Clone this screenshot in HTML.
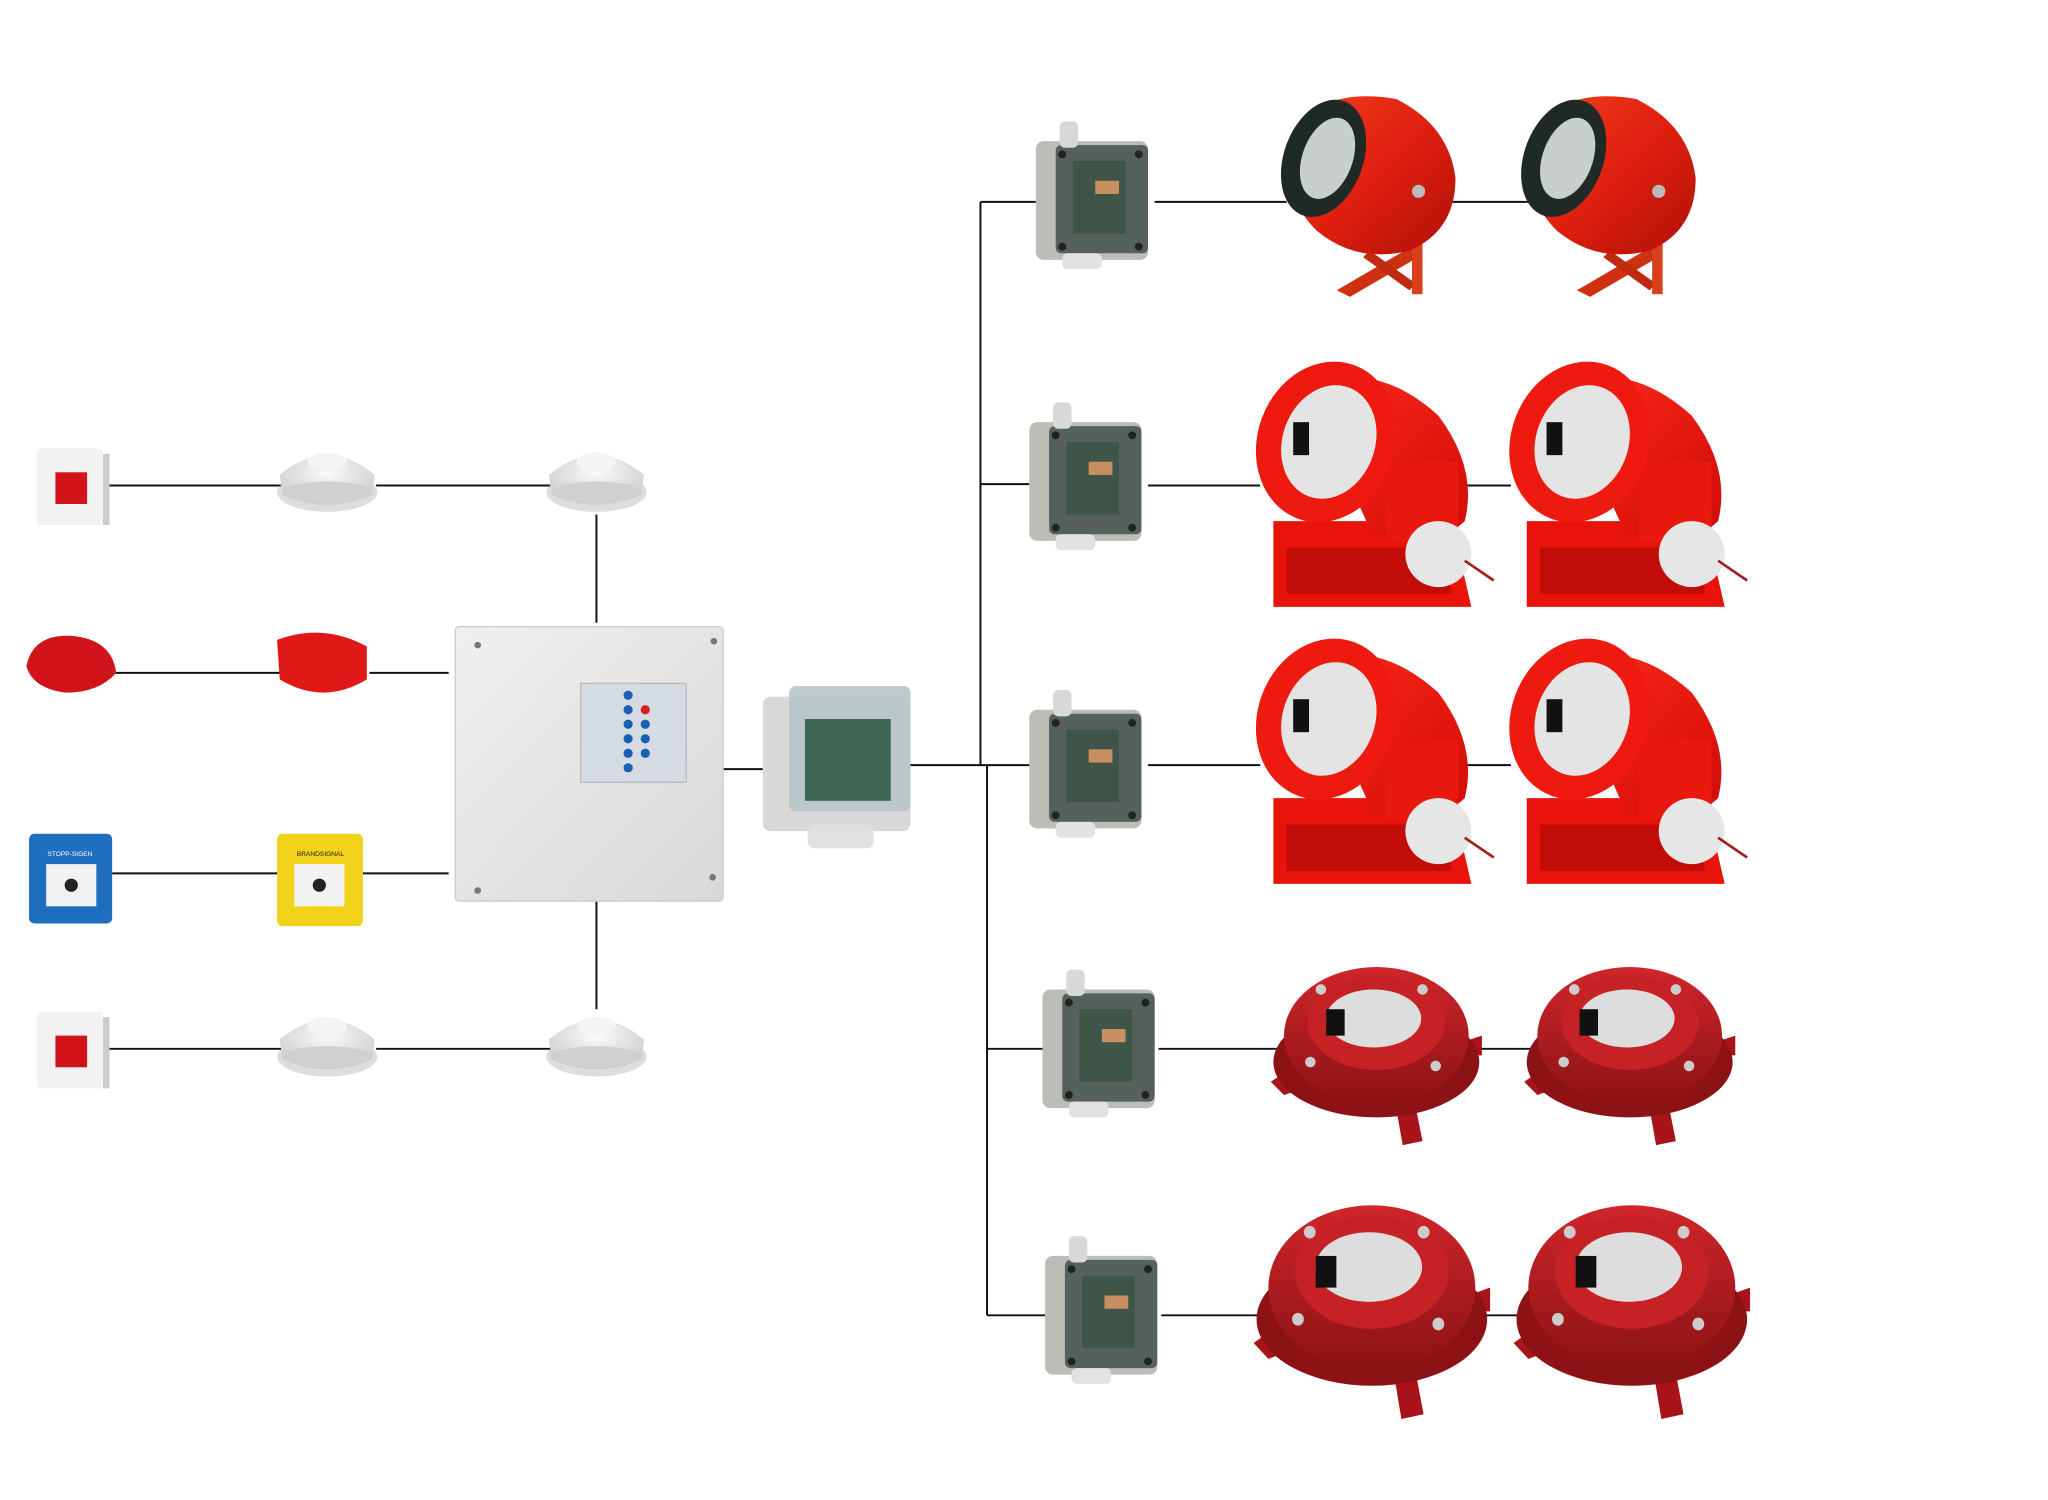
<!DOCTYPE html>
<html><head><meta charset="utf-8"><style>
html,body{margin:0;padding:0;background:#fff;}
svg{display:block;}
</style></head><body>
<svg width="2048" height="1500" viewBox="0 0 1552 1137" preserveAspectRatio="none" xmlns="http://www.w3.org/2000/svg">
<defs>
<linearGradient id="red" x1="0" y1="0" x2="1" y2="1"><stop offset="0" stop-color="#f0401c"/><stop offset="0.5" stop-color="#e02010"/><stop offset="1" stop-color="#b01008"/></linearGradient>
<linearGradient id="red2" x1="0" y1="0" x2="1" y2="1"><stop offset="0" stop-color="#ff2a1a"/><stop offset="1" stop-color="#d00c08"/></linearGradient>
<linearGradient id="dred" x1="0" y1="0" x2="0" y2="1"><stop offset="0" stop-color="#d0262a"/><stop offset="1" stop-color="#8a1216"/></linearGradient>
<linearGradient id="gray" x1="0" y1="0" x2="1" y2="1"><stop offset="0" stop-color="#f0f0f0"/><stop offset="1" stop-color="#d8d8d8"/></linearGradient>
<radialGradient id="det" cx="0.5" cy="0.35" r="0.7"><stop offset="0" stop-color="#fafafa"/><stop offset="1" stop-color="#c8c8c8"/></radialGradient>

<g id="jb">
 <rect x="0" y="15" width="85" height="90" rx="6" fill="#bdbdb7"/>
 <rect x="15" y="18" width="70" height="82" rx="4" fill="#56605c"/>
 <rect x="28" y="30" width="40" height="55" fill="#3e5548"/>
 <rect x="45" y="45" width="18" height="10" fill="#c89060"/>
 <rect x="18" y="0" width="14" height="20" rx="4" fill="#d8d8d8"/>
 <rect x="20" y="100" width="30" height="12" rx="4" fill="#e2e2e2"/>
 <circle cx="20" cy="25" r="3" fill="#222"/><circle cx="78" cy="25" r="3" fill="#222"/>
 <circle cx="20" cy="95" r="3" fill="#222"/><circle cx="78" cy="95" r="3" fill="#222"/>
</g>

<g id="horn">
 <path d="M45 155 L105 120 L110 128 L55 160 Z" fill="#d03012"/>
 <path d="M70 125 L105 150 L100 155 L65 130 Z" fill="#c02a10"/>
 <rect x="102" y="80" width="8" height="78" fill="#d8401c"/>
 <path d="M10 40 Q30 0 90 10 Q130 30 135 70 Q135 110 100 125 Q60 135 30 110 Q0 80 10 40 Z" fill="url(#red)"/>
 <ellipse cx="35" cy="55" rx="30" ry="46" transform="rotate(20 35 55)" fill="#1f2a26"/>
 <ellipse cx="38" cy="55" rx="19" ry="32" transform="rotate(20 38 55)" fill="#c8cfcc"/>
 <circle cx="107" cy="80" r="5" fill="#bbb"/>
</g>

<g id="cyl">
 <path d="M15 120 L150 120 L165 185 L15 185 Z" fill="#e8140c"/>
 <path d="M25 140 L145 140 L150 175 L25 175 Z" fill="#c20c08"/>
 <path d="M40 20 Q90 -5 140 40 Q170 80 160 120 Q140 140 90 130 Z" fill="url(#red2)"/>
 <rect x="100" y="75" width="55" height="60" fill="#e8180e"/>
 <ellipse cx="55" cy="60" rx="52" ry="62" transform="rotate(20 55 60)" fill="#ee1a10"/>
 <ellipse cx="57" cy="60" rx="35" ry="44" transform="rotate(20 57 60)" fill="#e4e4e4"/>
 <rect x="30" y="45" width="12" height="25" fill="#111"/>
 <circle cx="140" cy="145" r="25" fill="#e6e6e6"/>
 <line x1="160" y1="150" x2="182" y2="165" stroke="#a02020" stroke-width="2"/>
</g>

<g id="disc">
 <path d="M0 90 L15 80 L25 95 L10 100 Z" fill="#a8141a"/>
 <path d="M145 60 L160 55 L160 70 L145 70 Z" fill="#a8141a"/>
 <path d="M95 110 L110 110 L115 135 L100 138 Z" fill="#a8141a"/>
 <ellipse cx="80" cy="75" rx="78" ry="42" fill="#8c1216"/>
 <ellipse cx="80" cy="55" rx="70" ry="52" fill="url(#dred)"/>
 <ellipse cx="80" cy="45" rx="52" ry="36" fill="#c62226"/>
 <ellipse cx="78" cy="42" rx="36" ry="22" fill="#ddd"/>
 <rect x="42" y="35" width="14" height="20" fill="#111"/>
 <circle cx="38" cy="20" r="4" fill="#ccc"/><circle cx="115" cy="20" r="4" fill="#ccc"/><circle cx="30" cy="75" r="4" fill="#ccc"/><circle cx="125" cy="78" r="4" fill="#ccc"/>
</g>

<g id="det1">
 <ellipse cx="36" cy="38" rx="38" ry="15" fill="#bbb" opacity="0.5"/>
 <path d="M0 25 Q36 -5 72 25 L70 40 Q36 55 2 40 Z" fill="url(#det)"/>
 <ellipse cx="36" cy="38" rx="34" ry="8" fill="#d0d0d0"/>
 <ellipse cx="36" cy="15" rx="15" ry="7" fill="#f4f4f4"/>
</g>
<g id="flash">
 <rect x="0" y="0" width="50" height="58" rx="3" fill="#f2f2f2"/>
 <rect x="14" y="18" width="24" height="24" fill="#d0141a"/>
 <rect x="50" y="4" width="5" height="54" fill="#ccc"/>
</g>
</defs>

<!-- lines -->
<g stroke="#111" stroke-width="1.5" fill="none">
 <line x1="80" y1="368" x2="215" y2="368"/><line x1="285" y1="368" x2="420" y2="368"/>
 <line x1="452" y1="390" x2="452" y2="472"/>
 <line x1="85" y1="510" x2="215" y2="510"/><line x1="280" y1="510" x2="340" y2="510"/>
 <line x1="85" y1="662" x2="215" y2="662"/><line x1="275" y1="662" x2="340" y2="662"/>
 <line x1="80" y1="795" x2="215" y2="795"/><line x1="285" y1="795" x2="420" y2="795"/>
 <line x1="452" y1="678" x2="452" y2="765"/>
 <line x1="548" y1="583" x2="578" y2="583"/>
 <line x1="690" y1="580" x2="780" y2="580"/>
 <line x1="743" y1="153" x2="743" y2="580"/><line x1="748" y1="580" x2="748" y2="997"/>
 <line x1="743" y1="153" x2="785" y2="153"/><line x1="875" y1="153" x2="975" y2="153"/><line x1="1100" y1="153" x2="1160" y2="153"/>
 <line x1="743" y1="367" x2="780" y2="367"/><line x1="870" y1="368" x2="955" y2="368"/><line x1="1110" y1="368" x2="1145" y2="368"/>
 <line x1="870" y1="580" x2="955" y2="580"/><line x1="1110" y1="580" x2="1145" y2="580"/>
 <line x1="748" y1="795" x2="790" y2="795"/><line x1="878" y1="795" x2="970" y2="795"/><line x1="1115" y1="795" x2="1165" y2="795"/>
 <line x1="748" y1="997" x2="792" y2="997"/><line x1="880" y1="997" x2="970" y2="997"/><line x1="1115" y1="997" x2="1165" y2="997"/>
</g>

<!-- left devices -->
<use href="#flash" x="28" y="340"/>
<use href="#flash" x="28" y="767"/>
<use href="#det1" x="212" y="335"/><use href="#det1" x="416" y="335"/>
<use href="#det1" x="212" y="763"/><use href="#det1" x="416" y="763"/>
<path d="M20 505 Q25 480 55 482 Q85 485 88 510 Q75 525 50 525 Q25 522 20 505 Z" fill="#d0141a"/>
<path d="M210 485 Q245 472 278 490 L278 515 Q245 535 212 515 Z" fill="#e01818"/>
<rect x="22" y="632" width="63" height="68" rx="4" fill="#1f6fc0"/>
<rect x="35" y="655" width="38" height="32" fill="#f2f2f2"/><circle cx="54" cy="671" r="5" fill="#222"/>
<rect x="210" y="632" width="65" height="70" rx="4" fill="#f2d21a"/>
<rect x="223" y="655" width="38" height="32" fill="#f2f2f2"/><circle cx="242" cy="671" r="5" fill="#222"/>
<text x="36" y="649" font-family="Liberation Sans, sans-serif" font-size="5" fill="#fff">STOPP-SIGEN</text>
<text x="225" y="649" font-family="Liberation Sans, sans-serif" font-size="5" fill="#222">BRANDSIGNAL</text>

<!-- panel -->
<rect x="345" y="475" width="203" height="208" rx="3" fill="url(#gray)" stroke="#ccc"/>
<rect x="440" y="518" width="80" height="75" fill="#d4dbe2" stroke="#bbb"/>
<g fill="#1b5fb0"><circle cx="476" cy="527" r="3.5"/><circle cx="476" cy="538" r="3.5"/><circle cx="476" cy="549" r="3.5"/><circle cx="476" cy="560" r="3.5"/><circle cx="476" cy="571" r="3.5"/><circle cx="476" cy="582" r="3.5"/><circle cx="489" cy="549" r="3.5"/><circle cx="489" cy="560" r="3.5"/><circle cx="489" cy="571" r="3.5"/></g>
<circle cx="489" cy="538" r="3.5" fill="#d02020"/>
<g fill="#777"><circle cx="362" cy="489" r="2.5"/><circle cx="541" cy="486" r="2.5"/><circle cx="362" cy="675" r="2.5"/><circle cx="540" cy="665" r="2.5"/></g>

<!-- center junction -->
<rect x="578" y="528" width="112" height="102" rx="6" fill="#d8d8d6"/>
<rect x="598" y="520" width="92" height="95" rx="5" fill="#b8c4c6" opacity="0.9"/>
<rect x="610" y="545" width="65" height="62" fill="#3f6652"/>
<rect x="612" y="625" width="50" height="18" rx="5" fill="#e0e0e0"/>

<!-- right junction boxes -->
<use href="#jb" x="785" y="92"/>
<use href="#jb" x="780" y="305"/>
<use href="#jb" x="780" y="523"/>
<use href="#jb" x="790" y="735"/>
<use href="#jb" x="792" y="937"/>

<!-- sounders -->
<use href="#horn" x="968" y="65"/><use href="#horn" x="1150" y="65"/>
<use href="#cyl" x="950" y="275"/><use href="#cyl" x="1142" y="275"/>
<use href="#cyl" x="950" y="485"/><use href="#cyl" x="1142" y="485"/>
<use href="#disc" x="963" y="730"/><use href="#disc" x="1155" y="730"/>
<g transform="translate(950 910) scale(1.12 1.2)"><use href="#disc"/></g>
<g transform="translate(1147 910) scale(1.12 1.2)"><use href="#disc"/></g>
</svg>
</body></html>
